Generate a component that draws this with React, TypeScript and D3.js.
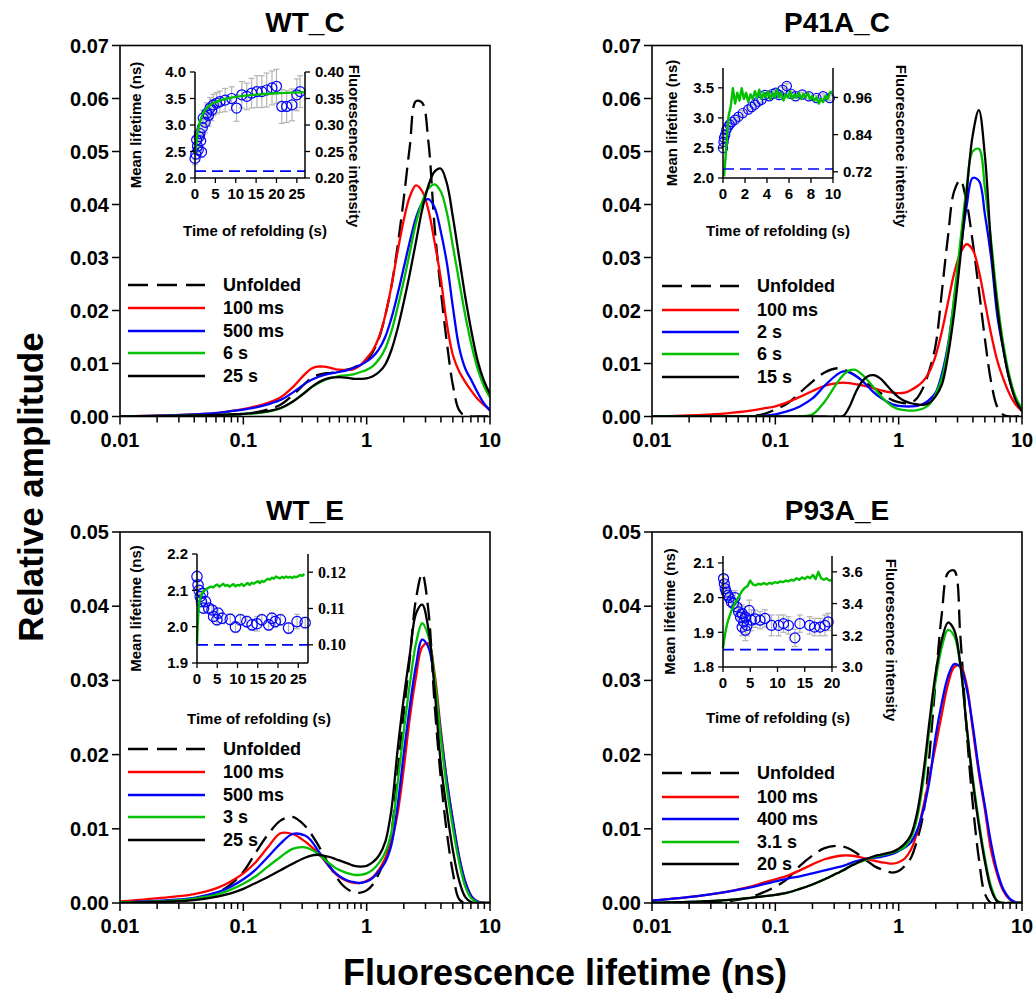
import React from "react";
import * as d3 from "d3";

const FONT = "'Liberation Sans', Arial, Helvetica, sans-serif";
const SERIF = "'Liberation Serif', 'Times New Roman', serif";

// ---------------- main lifetime distributions ----------------
const lifetimes = [0.01, 0.025, 0.04, 0.063, 0.079, 0.1, 0.126, 0.158, 0.2, 0.251, 0.316, 0.355, 0.398, 0.447, 0.501, 0.562, 0.631, 0.708, 0.794, 0.891, 1, 1.122, 1.259, 1.413, 1.585, 1.778, 1.995, 2.239, 2.512, 2.818, 3.162, 3.548, 3.981, 4.467, 5.012, 5.623, 6.31, 7.079, 7.943, 8.913, 10];

// WT_C
const wtcUnfolded = [0, 0, 0.0001, 0.0002, 0.0003, 0.0005, 0.0008, 0.0013, 0.0022, 0.004, 0.0062, 0.0072, 0.0078, 0.0081, 0.0082, 0.0084, 0.0086, 0.0089, 0.0093, 0.0098, 0.0106, 0.0122, 0.0148, 0.019, 0.0245, 0.032, 0.041, 0.051, 0.0595, 0.0592, 0.052, 0.036, 0.024, 0.014, 0.0058, 0.0012, 0.0001, 0, 0, 0, 0];
const wtc100ms = [0, 0.0002, 0.0004, 0.0007, 0.001, 0.0014, 0.0019, 0.0026, 0.0036, 0.0055, 0.008, 0.009, 0.0094, 0.0094, 0.0092, 0.0089, 0.0088, 0.0088, 0.009, 0.0097, 0.011, 0.0125, 0.015, 0.019, 0.0245, 0.031, 0.037, 0.0415, 0.0436, 0.0425, 0.039, 0.033, 0.0262, 0.0175, 0.0115, 0.0085, 0.0065, 0.0048, 0.0033, 0.0022, 0.0013];
const wtc500ms = [0, 0.0002, 0.0004, 0.0007, 0.001, 0.0013, 0.0017, 0.0023, 0.0031, 0.0045, 0.0062, 0.0069, 0.0074, 0.0078, 0.0081, 0.0083, 0.0085, 0.0088, 0.0092, 0.0097, 0.0104, 0.0113, 0.0127, 0.015, 0.0185, 0.023, 0.028, 0.033, 0.0375, 0.0402, 0.041, 0.0395, 0.035, 0.029, 0.0205, 0.013, 0.009, 0.0068, 0.0045, 0.0025, 0.0011];
const wtc6s = [0, 0.0001, 0.0002, 0.0003, 0.0004, 0.0005, 0.0006, 0.0009, 0.0015, 0.0028, 0.0046, 0.0055, 0.0062, 0.0068, 0.0072, 0.0075, 0.0077, 0.0078, 0.008, 0.0084, 0.0088, 0.0095, 0.0108, 0.0128, 0.016, 0.0205, 0.0255, 0.031, 0.0365, 0.0405, 0.043, 0.0438, 0.0425, 0.0385, 0.032, 0.0255, 0.019, 0.0135, 0.009, 0.0058, 0.0036];
const wtc25s = [0, 0.0001, 0.0002, 0.0003, 0.0004, 0.0005, 0.0007, 0.001, 0.0016, 0.0028, 0.0045, 0.0055, 0.0063, 0.0069, 0.0073, 0.0074, 0.0074, 0.0073, 0.0071, 0.0071, 0.0072, 0.0076, 0.0084, 0.0098, 0.0125, 0.0165, 0.0215, 0.027, 0.033, 0.039, 0.0435, 0.0462, 0.0468, 0.044, 0.0375, 0.03, 0.0225, 0.016, 0.0105, 0.0068, 0.0042];

// P41A_C
const p41Unfolded = [0, 0, 0, 0.0001, 0.0004, 0.0013, 0.0025, 0.0045, 0.0066, 0.0083, 0.0091, 0.0089, 0.0084, 0.0077, 0.0069, 0.0061, 0.0053, 0.0045, 0.0037, 0.0031, 0.0027, 0.0025, 0.0026, 0.0035, 0.0055, 0.0088, 0.0135, 0.0235, 0.034, 0.0425, 0.0446, 0.0405, 0.033, 0.024, 0.0145, 0.0065, 0.0018, 0.0003, 0, 0, 0];
const p41100ms = [0, 0.0003, 0.0006, 0.0011, 0.0015, 0.0019, 0.0027, 0.0037, 0.0048, 0.0058, 0.0063, 0.0064, 0.0063, 0.0061, 0.0059, 0.0056, 0.0053, 0.005, 0.0047, 0.0045, 0.0044, 0.0045, 0.005, 0.0057, 0.0067, 0.0085, 0.0115, 0.016, 0.0215, 0.027, 0.0308, 0.0325, 0.0315, 0.0275, 0.0215, 0.0155, 0.0105, 0.007, 0.0042, 0.0022, 0.001];
const p412s = [0, 0, 0, 0, 0.0001, 0.0004, 0.001, 0.0019, 0.0034, 0.0058, 0.0079, 0.0085, 0.0083, 0.0077, 0.0068, 0.0057, 0.0045, 0.0036, 0.0029, 0.0023, 0.002, 0.0019, 0.0019, 0.002, 0.0024, 0.0032, 0.0045, 0.008, 0.0135, 0.022, 0.031, 0.0395, 0.045, 0.0445, 0.038, 0.03, 0.019, 0.0125, 0.0068, 0.0033, 0.0012];
const p416s = [0, 0, 0, 0, 0, 0, 0, 0, 0.0004, 0.0028, 0.0063, 0.0078, 0.0087, 0.0088, 0.008, 0.0068, 0.0054, 0.004, 0.0028, 0.0019, 0.0014, 0.0012, 0.0011, 0.0012, 0.0015, 0.0023, 0.0042, 0.0072, 0.013, 0.0225, 0.033, 0.043, 0.05, 0.0505, 0.043, 0.033, 0.022, 0.0135, 0.0075, 0.0036, 0.0014];
const p4115s = [0, 0, 0, 0, 0, 0, 0, 0, 0, 0, 0, 0.0001, 0.0018, 0.0045, 0.0065, 0.0076, 0.0078, 0.0072, 0.006, 0.0047, 0.0036, 0.0029, 0.0025, 0.0023, 0.0022, 0.0026, 0.0038, 0.006, 0.0115, 0.0195, 0.03, 0.042, 0.053, 0.0578, 0.049, 0.032, 0.0205, 0.0125, 0.0068, 0.003, 0.001];

// WT_E
const wteUnfolded = [0, 0.0002, 0.0006, 0.0015, 0.0025, 0.0042, 0.0068, 0.0092, 0.0111, 0.0116, 0.0104, 0.0093, 0.008, 0.0065, 0.005, 0.0036, 0.0025, 0.0018, 0.0014, 0.0014, 0.0017, 0.0025, 0.004, 0.006, 0.0095, 0.0175, 0.0255, 0.033, 0.041, 0.0444, 0.0395, 0.027, 0.017, 0.0095, 0.004, 0.0005, 0, 0, 0, 0, 0];
const wte100ms = [0.0002, 0.0008, 0.0012, 0.0021, 0.0029, 0.004, 0.0055, 0.0075, 0.0094, 0.0093, 0.0083, 0.0076, 0.0068, 0.0059, 0.0048, 0.0039, 0.0033, 0.0029, 0.0027, 0.0027, 0.003, 0.0035, 0.0045, 0.006, 0.0083, 0.012, 0.018, 0.025, 0.0305, 0.0345, 0.035, 0.031, 0.0235, 0.0165, 0.011, 0.0062, 0.0028, 0.0009, 0.0002, 0, 0];
const wte500ms = [0.0001, 0.0004, 0.0007, 0.0015, 0.0022, 0.0032, 0.0045, 0.0062, 0.008, 0.0093, 0.0091, 0.0084, 0.0072, 0.006, 0.0049, 0.004, 0.0034, 0.003, 0.0028, 0.0027, 0.0029, 0.0034, 0.0043, 0.0055, 0.0078, 0.013, 0.02, 0.0265, 0.032, 0.0355, 0.0345, 0.03, 0.023, 0.0165, 0.011, 0.0062, 0.0028, 0.0009, 0.0002, 0, 0];
const wte3s = [0.0001, 0.0003, 0.0006, 0.0012, 0.0018, 0.0026, 0.0036, 0.0049, 0.0062, 0.0073, 0.0075, 0.0072, 0.0067, 0.006, 0.0053, 0.0047, 0.0043, 0.004, 0.0038, 0.0038, 0.004, 0.0045, 0.0054, 0.0068, 0.0095, 0.016, 0.023, 0.0295, 0.035, 0.0377, 0.036, 0.0305, 0.0225, 0.0155, 0.01, 0.0055, 0.0022, 0.0006, 0.0001, 0, 0];
const wte25s = [0, 0.0002, 0.0004, 0.0009, 0.0013, 0.0019, 0.0027, 0.0035, 0.0044, 0.0053, 0.0061, 0.0064, 0.0065, 0.0064, 0.0062, 0.0059, 0.0056, 0.0053, 0.005, 0.0049, 0.005, 0.0055, 0.0064, 0.0082, 0.0125, 0.0205, 0.0275, 0.0335, 0.039, 0.0402, 0.037, 0.029, 0.019, 0.0125, 0.007, 0.003, 0.0008, 0.0001, 0, 0, 0];

// P93A_E
const p93Unfolded = [0, 0, 0.0002, 0.0008, 0.0014, 0.0022, 0.0033, 0.005, 0.0064, 0.0074, 0.0077, 0.0076, 0.0073, 0.0068, 0.0062, 0.0056, 0.005, 0.0046, 0.0043, 0.0041, 0.0043, 0.005, 0.0061, 0.0085, 0.012, 0.02, 0.03, 0.039, 0.0445, 0.0448, 0.036, 0.0235, 0.0135, 0.006, 0.0012, 0, 0, 0, 0, 0, 0];
const p93100ms = [0.0003, 0.001, 0.0015, 0.0022, 0.0027, 0.0032, 0.0037, 0.0044, 0.0052, 0.0059, 0.0063, 0.0064, 0.0064, 0.0063, 0.0061, 0.0059, 0.0057, 0.0055, 0.0054, 0.0053, 0.0055, 0.006, 0.0072, 0.0095, 0.013, 0.017, 0.0212, 0.0255, 0.0295, 0.0318, 0.032, 0.0295, 0.0235, 0.0175, 0.0125, 0.007, 0.0038, 0.0016, 0.0005, 0.0001, 0];
const p93400ms = [0.0003, 0.001, 0.0015, 0.0021, 0.0025, 0.0029, 0.0033, 0.0036, 0.004, 0.0044, 0.0048, 0.005, 0.0053, 0.0056, 0.0058, 0.006, 0.0061, 0.0062, 0.0064, 0.0066, 0.007, 0.0075, 0.0082, 0.0098, 0.0125, 0.0165, 0.0225, 0.027, 0.0305, 0.0322, 0.0318, 0.029, 0.024, 0.018, 0.013, 0.008, 0.0042, 0.0018, 0.0006, 0.0001, 0];
const p933s = [0, 0.0002, 0.0004, 0.0007, 0.0009, 0.0011, 0.0014, 0.0019, 0.0025, 0.0032, 0.004, 0.0044, 0.0049, 0.0053, 0.0056, 0.0059, 0.0062, 0.0064, 0.0066, 0.0068, 0.0071, 0.0076, 0.0088, 0.0115, 0.0165, 0.0235, 0.03, 0.0345, 0.0368, 0.036, 0.032, 0.024, 0.017, 0.011, 0.006, 0.0022, 0.0003, 0, 0, 0, 0];
const p9320s = [0, 0.0002, 0.0004, 0.0007, 0.0009, 0.0011, 0.0014, 0.0019, 0.0025, 0.0032, 0.004, 0.0044, 0.0049, 0.0053, 0.0057, 0.006, 0.0063, 0.0065, 0.0067, 0.0069, 0.0073, 0.008, 0.0092, 0.0122, 0.0175, 0.0245, 0.031, 0.0355, 0.0378, 0.0368, 0.0322, 0.024, 0.0165, 0.0105, 0.0055, 0.0018, 0.0002, 0, 0, 0, 0];

const wtcLabels = ["Unfolded", "100 ms", "500 ms", "6 s", "25 s"];
const p41Labels = ["Unfolded", "100 ms", "2 s", "6 s", "15 s"];
const wteLabels = ["Unfolded", "100 ms", "500 ms", "3 s", "25 s"];
const p93Labels = ["Unfolded", "100 ms", "400 ms", "3.1 s", "20 s"];

const yTicksTop = [0, 0.01, 0.02, 0.03, 0.04, 0.05, 0.06, 0.07];
const yTicksBottom = [0, 0.01, 0.02, 0.03, 0.04, 0.05];
const xTicksMain = [0.01, 0.1, 1, 10];

// ---------------- inset data ----------------
const wtcInsetTime = [0, 0.2, 0.4, 0.6, 0.8, 1.0, 1.2, 1.4, 1.6, 1.8, 2.0, 2.5, 2.9, 3.3, 3.7, 4.1, 4.5, 5.3, 6.1, 7.4, 9.0, 10.2, 11.5, 12.7, 13.9, 15.2, 16.4, 17.6, 18.9, 20.0, 21.3, 22.5, 23.8, 25.0, 25.8];
const wtcInsetTau = [2.37, 2.45, 2.72, 2.6, 2.53, 2.78, 2.84, 2.7, 2.49, 2.95, 3.13, 3.05, 3.22, 3.18, 3.32, 3.28, 3.38, 3.41, 3.44, 3.47, 3.5, 3.32, 3.57, 3.54, 3.6, 3.63, 3.63, 3.66, 3.7, 3.73, 3.35, 3.35, 3.38, 3.57, 3.63];
const wtcInsetErr = [0.12, 0.1, 0.15, 0.12, 0.1, 0.15, 0.15, 0.12, 0.1, 0.15, 0.15, 0.2, 0.2, 0.2, 0.2, 0.2, 0.2, 0.2, 0.2, 0.22, 0.22, 0.25, 0.25, 0.25, 0.28, 0.3, 0.3, 0.32, 0.32, 0.32, 0.32, 0.3, 0.3, 0.3, 0.3];
const wtcGreenTime = [0, 0.3, 0.6, 1, 1.5, 2, 3, 4, 5, 6, 8, 10, 13, 16, 20, 24, 27];
const wtcGreenInt = [0.246, 0.266, 0.285, 0.3, 0.313, 0.322, 0.333, 0.339, 0.343, 0.346, 0.35, 0.353, 0.356, 0.358, 0.36, 0.361, 0.362];
const wtcUnfoldedTau = 2.13;

const p41InsetTime = [0, 0.05, 0.1, 0.2, 0.3, 0.45, 0.6, 0.8, 1.1, 1.4, 1.8, 2.3, 2.6, 2.9, 3.2, 3.5, 3.8, 4.2, 4.5, 4.8, 5.1, 5.4, 5.8, 6.2, 6.6, 7.2, 7.8, 8.5, 9.1, 9.7];
const p41InsetTau = [2.5, 2.6, 2.67, 2.72, 2.8, 2.85, 2.89, 2.93, 2.97, 3.02, 3.08, 3.14, 3.18, 3.22, 3.27, 3.3, 3.38, 3.36, 3.4, 3.42, 3.38, 3.47, 3.53, 3.4, 3.36, 3.39, 3.36, 3.33, 3.36, 3.33];
const p41InsetErr = [0.08, 0.07, 0.06, 0.05, 0.05, 0.04, 0.04, 0.04, 0.04, 0.04, 0.04, 0.04, 0.04, 0.04, 0.04, 0.04, 0.04, 0.04, 0.04, 0.04, 0.04, 0.04, 0.04, 0.04, 0.04, 0.04, 0.04, 0.04, 0.04, 0.04];
const p41GreenTime = [0.1, 0.3, 0.5, 0.7, 0.9, 1.1, 1.3, 1.5, 1.7, 1.9, 2.1, 2.3, 2.5, 2.7, 2.9, 3.1, 3.3, 3.5, 3.7, 3.9, 4.1, 4.3, 4.5, 4.7, 4.9, 5.1, 5.3, 5.5, 5.7, 5.9, 6.1, 6.3, 6.5, 6.7, 6.9, 7.1, 7.3, 7.5, 7.7, 7.9, 8.1, 8.3, 8.5, 8.7, 8.9, 9.1, 9.3, 9.5, 9.7, 9.9];
const p41GreenInt = [0.705, 0.8, 0.9, 0.93, 0.99, 0.94, 0.975, 0.95, 0.99, 0.955, 0.975, 0.945, 0.97, 0.955, 0.98, 0.96, 0.985, 0.955, 0.975, 0.96, 0.98, 0.955, 0.975, 0.96, 0.985, 0.96, 0.975, 0.95, 0.97, 0.96, 0.98, 0.955, 0.97, 0.96, 0.975, 0.955, 0.97, 0.96, 0.975, 0.955, 0.965, 0.95, 0.96, 0.94, 0.955, 0.945, 0.965, 0.955, 0.975, 0.98];
const p41UnfoldedTau = 2.15;

const wteInsetTime = [0, 0.25, 0.5, 0.8, 1.1, 1.4, 1.6, 2.1, 2.9, 3.7, 4.1, 4.9, 5.2, 6.2, 8.2, 9.5, 10.7, 12.3, 13.6, 14.8, 16.0, 17.7, 18.5, 19.3, 20.6, 22.6, 24.7, 26.7];
const wteInsetTau = [2.138, 2.115, 2.1, 2.083, 2.069, 2.092, 2.051, 2.069, 2.051, 2.046, 2.028, 2.019, 2.037, 2.023, 2.02, 1.999, 2.019, 2.014, 2.005, 2.008, 2.019, 2.005, 2.023, 2.014, 2.019, 1.996, 2.014, 2.011];
const wteInsetErr = [0.015, 0.012, 0.012, 0.012, 0.012, 0.012, 0.012, 0.012, 0.012, 0.012, 0.012, 0.015, 0.015, 0.015, 0.015, 0.015, 0.015, 0.015, 0.015, 0.02, 0.015, 0.015, 0.015, 0.015, 0.015, 0.015, 0.02, 0.015];
const wteGreenTime = [0, 0.2, 0.4, 0.6, 0.8, 1.0, 1.3, 1.6, 2.0, 2.5, 3, 3.5, 4, 4.5, 5, 5.5, 6, 6.5, 7, 7.5, 8, 8.5, 9, 9.5, 10, 10.5, 11, 11.5, 12, 12.5, 13, 13.5, 14, 14.5, 15, 15.5, 16, 16.5, 17, 17.5, 18, 18.5, 19, 19.5, 20, 20.5, 21, 21.5, 22, 22.5, 23, 23.5, 24, 24.5, 25, 25.5, 26, 26.5];
const wteGreenInt = [0.1003, 0.106, 0.11, 0.1118, 0.1128, 0.1135, 0.1142, 0.1148, 0.115, 0.1155, 0.1158, 0.116, 0.1158, 0.1163, 0.1166, 0.116, 0.1164, 0.1168, 0.1162, 0.1165, 0.116, 0.1164, 0.1167, 0.1161, 0.1165, 0.1163, 0.1168, 0.1162, 0.1166, 0.117, 0.1165, 0.1171, 0.1168, 0.1172, 0.1175, 0.117, 0.1176, 0.1173, 0.1178, 0.1182, 0.1179, 0.1185, 0.1182, 0.1188, 0.1185, 0.1183, 0.1187, 0.1184, 0.1188, 0.1185, 0.1187, 0.1184, 0.1188, 0.1186, 0.1189, 0.1192, 0.119, 0.1195];
const wteUnfoldedTau = 1.95;

const p93InsetTime = [0.1, 0.25, 0.4, 0.6, 0.9, 1.15, 1.5, 1.9, 2.2, 2.55, 2.85, 3.2, 3.5, 3.5, 3.8, 4.1, 4.1, 4.4, 4.8, 5.2, 5.9, 6.8, 7.7, 8.9, 10.2, 11.1, 12.0, 13.2, 14.1, 15.9, 16.8, 17.8, 18.7, 19.3];
const p93InsetTau = [2.055, 2.04, 2.026, 2.016, 2.007, 2.0, 1.988, 1.983, 2.0, 1.973, 1.959, 1.944, 1.954, 1.915, 1.93, 1.944, 1.906, 1.92, 1.963, 1.935, 1.939, 1.935, 1.94, 1.92, 1.92, 1.925, 1.92, 1.884, 1.925, 1.92, 1.915, 1.915, 1.92, 1.93];
const p93InsetErr = [0.01, 0.01, 0.01, 0.01, 0.012, 0.012, 0.015, 0.015, 0.02, 0.02, 0.02, 0.025, 0.025, 0.025, 0.025, 0.03, 0.03, 0.03, 0.03, 0.03, 0.025, 0.025, 0.025, 0.03, 0.03, 0.025, 0.025, 0.025, 0.025, 0.025, 0.025, 0.025, 0.03, 0.025];
const p93GreenTime = [0, 0.25, 0.5, 0.75, 1, 1.5, 2, 2.5, 3, 3.5, 4, 4.5, 5, 5.5, 6, 6.5, 7, 7.5, 8, 8.5, 9, 9.5, 10, 10.5, 11, 11.5, 12, 12.5, 13, 13.5, 14, 14.5, 15, 15.5, 16, 16.5, 17, 17.5, 18, 18.5, 19, 19.5, 20];
const p93GreenInt = [3.12, 3.18, 3.23, 3.27, 3.3, 3.35, 3.39, 3.42, 3.45, 3.48, 3.5, 3.51, 3.545, 3.52, 3.515, 3.525, 3.52, 3.53, 3.52, 3.53, 3.525, 3.535, 3.53, 3.54, 3.535, 3.545, 3.54, 3.55, 3.545, 3.56, 3.55, 3.565, 3.555, 3.57, 3.56, 3.58, 3.555, 3.6, 3.56, 3.55, 3.56, 3.545, 3.55];
const p93UnfoldedTau = 1.85;

// ---------------- layout / styles ----------------
const seriesColors = ["#000000", "#ff0000", "#0000ff", "#00c000", "#000000"];

const panels = [
  { id: "wtc", title: "WT_C", x0: 120, x1: 490, y0: 45.5, y1: 416.5, yMax: 0.07, yTicks: yTicksTop, series: [wtcUnfolded, wtc100ms, wtc500ms, wtc6s, wtc25s], labels: wtcLabels, lx: 128, ly: [285, 308, 331, 353, 376], titleY: 32 },
  { id: "p41", title: "P41A_C", x0: 652, x1: 1022, y0: 45.5, y1: 416.5, yMax: 0.07, yTicks: yTicksTop, series: [p41Unfolded, p41100ms, p412s, p416s, p4115s], labels: p41Labels, lx: 662, ly: [286, 310, 332, 354, 377], titleY: 32 },
  { id: "wte", title: "WT_E", x0: 120, x1: 490, y0: 532, y1: 903, yMax: 0.05, yTicks: yTicksBottom, series: [wteUnfolded, wte100ms, wte500ms, wte3s, wte25s], labels: wteLabels, lx: 128, ly: [749, 772, 795, 817, 840], titleY: 520 },
  { id: "p93", title: "P93A_E", x0: 652, x1: 1022, y0: 532, y1: 903, yMax: 0.05, yTicks: yTicksBottom, series: [p93Unfolded, p93100ms, p93400ms, p933s, p9320s], labels: p93Labels, lx: 662, ly: [773, 797, 819, 842, 864], titleY: 520 },
];

const insets = [
  { id: "i1", x0: 195, x1: 305, y0: 72, y1: 178, xDomain: [0, 27], yLeft: [2.0, 4.0], yRight: [0.2, 0.4], xTicks: [0, 5, 10, 15, 20, 25], lTicks: [2.0, 2.5, 3.0, 3.5, 4.0], rTicks: [0.2, 0.25, 0.3, 0.35, 0.4], rFmt: ".2f", rSerif: false, time: wtcInsetTime, tau: wtcInsetTau, err: wtcInsetErr, gT: wtcGreenTime, gF: wtcGreenInt, smooth: true, dash: wtcUnfoldedTau, r: 5, leftLabelX: 136, rightLabelX: 354, rightLabelY: 146, timeLabelX: 255, timeLabelY: 231 },
  { id: "i2", x0: 723, x1: 833, y0: 68, y1: 178, xDomain: [0, 10], yLeft: [2.0, 3.83], yRight: [0.7, 1.055], xTicks: [0, 2, 4, 6, 8, 10], lTicks: [2.0, 2.5, 3.0, 3.5], rTicks: [0.72, 0.84, 0.96], rFmt: ".2f", rSerif: false, time: p41InsetTime, tau: p41InsetTau, err: p41InsetErr, gT: p41GreenTime, gF: p41GreenInt, smooth: false, dash: p41UnfoldedTau, r: 4.6, leftLabelX: 672, rightLabelX: 901, rightLabelY: 146, timeLabelX: 778, timeLabelY: 231 },
  { id: "i3", x0: 197, x1: 308, y0: 554, y1: 663, xDomain: [0, 27.4], yLeft: [1.9, 2.2], yRight: [0.095, 0.125], xTicks: [0, 5, 10, 15, 20, 25], lTicks: [1.9, 2.0, 2.1, 2.2], rTicks: [0.1, 0.11, 0.12], rFmt: ".2f", rSerif: true, time: wteInsetTime, tau: wteInsetTau, err: wteInsetErr, gT: wteGreenTime, gF: wteGreenInt, smooth: false, dash: wteUnfoldedTau, r: 5.2, leftLabelX: 136, rightLabelX: null, rightLabelY: 0, timeLabelX: 259, timeLabelY: 719 },
  { id: "i4", x0: 723, x1: 832, y0: 556, y1: 667, xDomain: [0, 20], yLeft: [1.8, 2.12], yRight: [3.0, 3.7], xTicks: [0, 5, 10, 15, 20], lTicks: [1.8, 1.9, 2.0, 2.1], rTicks: [3.0, 3.2, 3.4, 3.6], rFmt: ".1f", rSerif: false, time: p93InsetTime, tau: p93InsetTau, err: p93InsetErr, gT: p93GreenTime, gF: p93GreenInt, smooth: false, dash: p93UnfoldedTau, r: 5, leftLabelX: 670, rightLabelX: 891, rightLabelY: 640, timeLabelX: 778, timeLabelY: 718 },
];

function isDecade(t: number) {
  const l = Math.log10(t);
  return Math.abs(l - Math.round(l)) < 1e-6;
}

function MainPanel({ p }: { p: any }) {
  const x = d3.scaleLog().domain([0.01, 10]).range([p.x0, p.x1]);
  const y = d3.scaleLinear().domain([0, p.yMax]).range([p.y1, p.y0]);
  const line = d3
    .line<number>()
    .x((_, i) => x(lifetimes[i]))
    .y((d) => y(d))
    .curve(d3.curveCatmullRom.alpha(0.5));
  const minor = x.ticks().filter((t) => !isDecade(t));
  const fmtY = d3.format(".2f");
  const cx = (p.x0 + p.x1) / 2;
  return (
    <g>
      <defs>
        <clipPath id={`clip-${p.id}`}>
          <rect x={p.x0} y={p.y0} width={p.x1 - p.x0} height={p.y1 - p.y0} />
        </clipPath>
      </defs>
      <g clipPath={`url(#clip-${p.id})`}>
        {p.series.map((s: number[], k: number) => (
          <path
            key={k}
            d={line(s) || ""}
            fill="none"
            stroke={seriesColors[k]}
            strokeWidth={2.3}
            strokeDasharray={k === 0 ? "18,8" : undefined}
          />
        ))}
      </g>
      <rect x={p.x0} y={p.y0} width={p.x1 - p.x0} height={p.y1 - p.y0} fill="none" stroke="#000" strokeWidth={1.6} />
      {xTicksMain.map((t) => (
        <g key={`xt${t}`}>
          <line x1={x(t)} x2={x(t)} y1={p.y1} y2={p.y1 + 8} stroke="#000" strokeWidth={1.5} />
          <text x={x(t)} y={p.y1 + 30} textAnchor="middle" fontSize={20} fontWeight="bold" fontFamily={FONT}>
            {String(t)}
          </text>
        </g>
      ))}
      {minor.map((t, i) => (
        <line key={`mt${i}`} x1={x(t)} x2={x(t)} y1={p.y1} y2={p.y1 + 6} stroke="#000" strokeWidth={1.5} />
      ))}
      {p.yTicks.map((t: number) => (
        <g key={`yt${t}`}>
          <line x1={p.x0 - 8} x2={p.x0} y1={y(t)} y2={y(t)} stroke="#000" strokeWidth={1.5} />
          <text x={p.x0 - 11} y={y(t)} dy="0.35em" textAnchor="end" fontSize={20} fontWeight="bold" fontFamily={FONT}>
            {fmtY(t)}
          </text>
        </g>
      ))}
      <text x={cx} y={p.titleY} textAnchor="middle" fontSize={28} fontWeight="bold" fontFamily={FONT}>
        {p.title}
      </text>
      {p.labels.map((lab: string, k: number) => (
        <g key={`lg${k}`}>
          <line
            x1={p.lx}
            x2={p.lx + 77}
            y1={p.ly[k]}
            y2={p.ly[k]}
            stroke={seriesColors[k]}
            strokeWidth={2.3}
            strokeDasharray={k === 0 ? "20,9" : undefined}
          />
          <text x={p.lx + 95} y={p.ly[k]} dy="0.35em" fontSize={18} fontWeight="bold" fontFamily={FONT}>
            {lab}
          </text>
        </g>
      ))}
    </g>
  );
}

function Inset({ s }: { s: any }) {
  const x = d3.scaleLinear().domain(s.xDomain).range([s.x0, s.x1]);
  const yL = d3.scaleLinear().domain(s.yLeft).range([s.y1, s.y0]);
  const yR = d3.scaleLinear().domain(s.yRight).range([s.y1, s.y0]);
  const greenPts = s.gT.map((t: number, i: number) => [t, s.gF[i]] as [number, number]);
  const green = d3
    .line<[number, number]>()
    .x((d) => x(d[0]))
    .y((d) => yR(d[1]))
    .curve(s.smooth ? d3.curveMonotoneX : d3.curveLinear);
  const fmtL = d3.format(".1f");
  const fmtR = d3.format(s.rFmt);
  const midY = (s.y0 + s.y1) / 2;
  const fs = 15;
  return (
    <g>
      {s.time.map((t: number, i: number) => {
        const xx = x(t);
        const a = yL(s.tau[i] - s.err[i]);
        const b = yL(s.tau[i] + s.err[i]);
        return (
          <g key={`e${i}`} stroke="#b4b4b4" strokeWidth={1.2}>
            <line x1={xx} x2={xx} y1={a} y2={b} />
            <line x1={xx - 3} x2={xx + 3} y1={a} y2={a} />
            <line x1={xx - 3} x2={xx + 3} y1={b} y2={b} />
          </g>
        );
      })}
      {s.time.map((t: number, i: number) => (
        <circle key={`c${i}`} cx={x(t)} cy={yL(s.tau[i])} r={s.r} fill="none" stroke="#0000ff" strokeWidth={1.2} />
      ))}
      <path d={green(greenPts) || ""} fill="none" stroke="#00c000" strokeWidth={2.4} strokeLinejoin="round" />
      <line x1={s.x0} x2={s.x1} y1={yL(s.dash)} y2={yL(s.dash)} stroke="#0000ff" strokeWidth={1.6} strokeDasharray="11,6" />
      <line x1={s.x0} x2={s.x0} y1={s.y0} y2={s.y1} stroke="#000" strokeWidth={1.5} />
      <line x1={s.x1} x2={s.x1} y1={s.y0} y2={s.y1} stroke="#000" strokeWidth={1.5} />
      <line x1={s.x0} x2={s.x1} y1={s.y1} y2={s.y1} stroke="#000" strokeWidth={1.5} />
      {s.xTicks.map((t: number) => (
        <g key={`xt${t}`}>
          <line x1={x(t)} x2={x(t)} y1={s.y1} y2={s.y1 + 5} stroke="#000" strokeWidth={1.3} />
          <text x={x(t)} y={s.y1 + 21} textAnchor="middle" fontSize={fs} fontWeight="bold" fontFamily={FONT}>
            {String(t)}
          </text>
        </g>
      ))}
      {s.lTicks.map((t: number) => (
        <g key={`lt${t}`}>
          <line x1={s.x0 - 5} x2={s.x0} y1={yL(t)} y2={yL(t)} stroke="#000" strokeWidth={1.3} />
          <text x={s.x0 - 9} y={yL(t)} dy="0.35em" textAnchor="end" fontSize={fs} fontWeight="bold" fontFamily={FONT}>
            {fmtL(t)}
          </text>
        </g>
      ))}
      {s.rTicks.map((t: number) => (
        <g key={`rt${t}`}>
          <line x1={s.x1} x2={s.x1 + 5} y1={yR(t)} y2={yR(t)} stroke="#000" strokeWidth={1.3} />
          <text
            x={s.x1 + 10}
            y={yR(t)}
            dy="0.35em"
            textAnchor="start"
            fontSize={s.rSerif ? 16 : fs}
            fontWeight="bold"
            fontFamily={s.rSerif ? SERIF : FONT}
          >
            {fmtR(t)}
          </text>
        </g>
      ))}
      <text
        transform={`translate(${s.leftLabelX},${midY}) rotate(-90)`}
        textAnchor="middle"
        dy="0.35em"
        fontSize={fs}
        fontWeight="bold"
        fontFamily={FONT}
      >
        Mean lifetime (ns)
      </text>
      {s.rightLabelX !== null && (
        <text
          transform={`translate(${s.rightLabelX},${s.rightLabelY}) rotate(90)`}
          textAnchor="middle"
          dy="0.35em"
          fontSize={fs}
          fontWeight="bold"
          fontFamily={FONT}
        >
          Fluorescence intensity
        </text>
      )}
      <text x={s.timeLabelX} y={s.timeLabelY} dy="0.35em" textAnchor="middle" fontSize={fs} fontWeight="bold" fontFamily={FONT}>
        Time of refolding (s)
      </text>
    </g>
  );
}

export default function App() {
  return (
    <svg
      width={1036}
      height={997}
      viewBox="0 0 1036 997"
      style={{ position: "absolute", left: 0, top: 0, background: "#fff" }}
    >
      <rect x={0} y={0} width={1036} height={997} fill="#fff" />
      {panels.map((p) => (
        <MainPanel key={p.id} p={p} />
      ))}
      {insets.map((s) => (
        <Inset key={s.id} s={s} />
      ))}
      <text
        transform="translate(31,487) rotate(-90)"
        textAnchor="middle"
        dy="0.35em"
        fontSize={35}
        fontWeight="bold"
        fontFamily={FONT}
      >
        Relative amplitude
      </text>
      <text x={565} y={972} dy="0.35em" textAnchor="middle" fontSize={36} fontWeight="bold" fontFamily={FONT}>
        Fluorescence lifetime (ns)
      </text>
    </svg>
  );
}
